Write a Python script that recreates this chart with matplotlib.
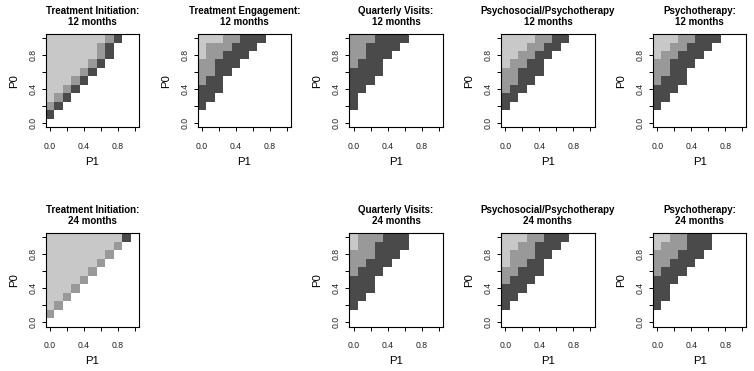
import numpy as np
import matplotlib
matplotlib.use("Agg")
import matplotlib.pyplot as plt
from matplotlib.colors import ListedColormap, BoundaryNorm

plt.rcParams['font.family'] = ['Liberation Sans', 'DejaVu Sans']

# grid values (cell centres)
p1_values = [0.0, 0.1, 0.2, 0.3, 0.4, 0.5, 0.6, 0.7, 0.8, 0.9, 1.0]
p0_values = [0.0, 0.1, 0.2, 0.3, 0.4, 0.5, 0.6, 0.7, 0.8, 0.9, 1.0]

# category grids: rows from P0 = 1.0 (top) down to P0 = 0.0; columns P1 = 0.0 .. 1.0
# '.' = no value, 'L' = light, 'M' = medium, 'D' = dark
ti_12 = ["LLLLLLLMD..", "LLLLLLMD...", "LLLLLLMD...", "LLLLLMD....", "LLLLMD.....",
         "LLLMD......", "LLMD.......", "LMD........", "MD.........", "D..........",
         "..........."]
te_12 = ["LLLMMDDD...", "LMMMDDD....", "LMMDDD.....", "MMDDD......", "MMDD.......",
         "MDD........", "DDD........", "DD.........", "D..........", "...........",
         "..........."]
qv_12 = ["MMMDDDD....", "MMDDDD.....", "MMDDD......", "MDDD.......", "DDDD.......",
         "DDD........", "DD.........", "D..........", "D..........", "...........",
         "..........."]
pp_12 = ["LLLLMMDD...", "LLLMMDD....", "LLMMDD.....", "LMMDD......", "MMDDD......",
         "MMDD.......", "MDD........", "DD.........", "D..........", "...........",
         "..........."]
pt_12 = ["LLLMMDDD...", "LLMMDDD....", "LMMDDD.....", "MMDDD......", "MMDD.......",
         "MDDD.......", "DDD........", "DD.........", "D..........", "...........",
         "..........."]
ti_24 = ["LLLLLLLLLD.", "LLLLLLLLM..", "LLLLLLLM...", "LLLLLLM....", "LLLLLM.....",
         "LLLLM......", "LLLM.......", "LLM........", "LM.........", "M..........",
         "..........."]
qv_24 = ["LMMMDDD....", "LMMDDDD....", "MMMDDD.....", "MMDDD......", "MDDD.......",
         "DDD........", "DDD........", "DD.........", "D..........", "...........",
         "..........."]
pp_24 = ["LLLMMDDD...", "LLMMDDD....", "LMMMDD.....", "LMMDD......", "MMDDD......",
         "MDDD.......", "DDD........", "DD.........", "D..........", "...........",
         "..........."]
pt_24 = ["LLMMDDD....", "LMMMDDD....", "MMMDDD.....", "MMDDD......", "MDDD.......",
         "DDD........", "DD.........", "DD.........", "D..........", "...........",
         "..........."]

titles = ["Treatment Initiation:\n12 months", "Treatment Engagement:\n12 months",
          "Quarterly Visits:\n12 months", "Psychosocial/Psychotherapy\n12 months",
          "Psychotherapy:\n12 months",
          "Treatment Initiation:\n24 months", None,
          "Quarterly Visits:\n24 months", "Psychosocial/Psychotherapy\n24 months",
          "Psychotherapy:\n24 months"]
grids = [ti_12, te_12, qv_12, pp_12, pt_12, ti_24, None, qv_24, pp_24, pt_24]

code = {'L': 0, 'M': 1, 'D': 2}
cmap = ListedColormap(['#c8c8c8', '#999999', '#4a4a4a'])
cmap.set_bad('white')
norm = BoundaryNorm([-0.5, 0.5, 1.5, 2.5], cmap.N)

W, H = 754, 371
fig = plt.figure(figsize=(W / 100, H / 100), dpi=100)

box = 93.5
lefts = [45.75 + i * 151.8 for i in range(5)]
tops = [34.0, 233.0]

def edges(c):
    c = np.asarray(c)
    mid = (c[:-1] + c[1:]) / 2
    return np.concatenate([[c[0] - (c[1] - c[0]) / 2], mid, [c[-1] + (c[-1] - c[-2]) / 2]])

xe = edges(p1_values)
ye = edges(p0_values)

for idx, (grid, title) in enumerate(zip(grids, titles)):
    if grid is None:
        continue
    r, c = divmod(idx, 5)
    ax = fig.add_axes([lefts[c] / W, 1 - (tops[r] + box) / H, box / W, box / H])
    rows = grid[::-1]
    z = np.array([[code.get(ch, np.nan) for ch in row] for row in rows], dtype=float)
    z = np.ma.masked_invalid(z)
    ax.pcolormesh(xe, ye, z, cmap=cmap, norm=norm, shading='flat')
    ax.set_xlim(xe[0], xe[-1])
    ax.set_ylim(ye[0], ye[-1])
    ticks = [0.0, 0.2, 0.4, 0.6, 0.8, 1.0]
    labs = ["0.0", "", "0.4", "", "0.8", ""]
    ax.set_xticks(ticks)
    ax.set_xticklabels(labs, fontsize=6.2, color='#222222')
    ax.set_yticks(ticks)
    ax.set_yticklabels(labs, fontsize=6.2, color='#222222', rotation=90, va='center')
    ax.tick_params(axis='x', length=3, width=0.7, pad=7.5)
    ax.tick_params(axis='y', length=3, width=0.7, pad=3)
    for s in ax.spines.values():
        s.set_linewidth(0.8)
    ax.set_xlabel("P1", fontsize=8.2, va='center')
    ax.xaxis.set_label_coords(0.5, -0.366)
    ax.set_ylabel("P0", fontsize=8.2, va='center')
    ax.yaxis.set_label_coords(-0.34, 0.5)
    ax.set_title(title, fontsize=7, fontweight='bold', pad=6.5, linespacing=1.1)

fig.savefig("out.png", dpi=100, facecolor='white')
